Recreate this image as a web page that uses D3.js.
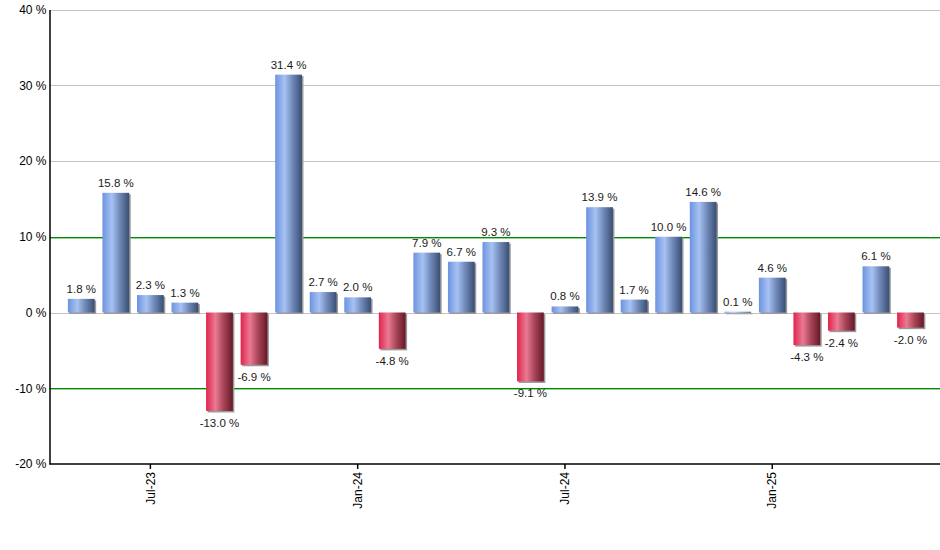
<!DOCTYPE html>
<html>
<head>
<meta charset="utf-8">
<script src="https://cdn.jsdelivr.net/npm/d3@7"></script>
<style>
  body { margin: 0; background: #fff; }
  text { font-family: "Liberation Sans", Arial, sans-serif; }
</style>
</head>
<body>
<div class="viz"></div>
<script>
const w = 940;
const h = 550;

const months = ["May-23", "Jun-23", "Jul-23", "Aug-23", "Sep-23", "Oct-23", "Nov-23", "Dec-23",
    "Jan-24", "Feb-24", "Mar-24", "Apr-24", "May-24", "Jun-24", "Jul-24", "Aug-24", "Sep-24",
    "Oct-24", "Nov-24", "Dec-24", "Jan-25", "Feb-25", "Mar-25", "Apr-25", "May-25"];
const returns = [1.8, 15.8, 2.3, 1.3, -13.0, -6.9, 31.4, 2.7, 2.0, -4.8, 7.9, 6.7, 9.3, -9.1,
    0.8, 13.9, 1.7, 10.0, 14.6, 0.1, 4.6, -4.3, -2.4, 6.1, -2.0];
const tickMonths = ["Jul-23", "Jan-24", "Jul-24", "Jan-25"];
const yTicks = [-20, -10, 0, 10, 20, 30, 40];
const greenLines = [-10, 10];

const data = months.map((m, i) => ({ month: m, value: returns[i] }));

const plotLeft = 49.5, plotRight = 940, plotTop = 9.5, plotBottom = 464;

const svg = d3.select(".viz")
    .append("svg")
    .attr("width", w)
    .attr("height", h);

const y = d3.scaleLinear().domain([-20, 40]).range([plotBottom, plotTop]);
const x = d3.scaleBand()
    .domain(months)
    .range([64, 64 + 25 * 34.55])
    .paddingInner(0.225)
    .paddingOuter(0.1125);

const defs = svg.append("defs");
function grad(id, stops) {
    const g = defs.append("linearGradient").attr("id", id)
        .attr("x1", "0%").attr("x2", "100%").attr("y1", "0%").attr("y2", "0%");
    stops.forEach(s => g.append("stop").attr("offset", s[0]).attr("stop-color", s[1]));
}
grad("blue", [["0%", "#6d93df"], ["35%", "#a7c2f3"], ["65%", "#6f88b8"], ["100%", "#394e72"]]);
grad("red", [["0%", "#e0244c"], ["35%", "#ea7a92"], ["65%", "#a84559"], ["100%", "#661827"]]);

// gridlines
svg.selectAll("line.grid")
    .data(yTicks.filter(t => t > -20 && !greenLines.includes(t)))
    .enter()
    .append("line")
    .attr("class", "grid")
    .attr("x1", plotLeft).attr("x2", plotRight)
    .attr("y1", d => Math.round(y(d)) + 0.5).attr("y2", d => Math.round(y(d)) + 0.5)
    .attr("stroke", "#c4c4c4");

// green reference lines as thin rects
svg.selectAll("rect.green")
    .data(greenLines)
    .enter()
    .append("rect")
    .attr("class", "green")
    .attr("x", plotLeft)
    .attr("width", plotRight - plotLeft)
    .attr("y", d => Math.round(y(d)))
    .attr("height", 1.4)
    .attr("fill", "#008a00");

// bar shadows
svg.selectAll("rect.shadow")
    .data(data)
    .enter()
    .append("rect")
    .attr("class", "shadow")
    .attr("x", d => x(d.month) + 1.5)
    .attr("y", d => Math.min(y(d.value), y(0)) + 1.5)
    .attr("width", x.bandwidth())
    .attr("height", d => Math.max(1, Math.abs(y(d.value) - y(0))))
    .style("fill", "#9a9a9a");

svg.selectAll("rect.bar")
    .data(data)
    .enter()
    .append("rect")
    .attr("class", "bar")
    .attr("x", d => x(d.month))
    .attr("y", d => Math.min(y(d.value), y(0)))
    .attr("width", x.bandwidth())
    .attr("height", d => Math.max(1, Math.abs(y(d.value) - y(0))))
    .style("fill", d => d.value >= 0 ? "url(#blue)" : "url(#red)");

// value labels
svg.selectAll("text.val")
    .data(data)
    .enter()
    .append("text")
    .attr("class", "val")
    .attr("x", d => x(d.month) + x.bandwidth() / 2)
    .attr("y", d => d.value >= 0 ? y(d.value) - 6 : y(d.value) + 16)
    .attr("text-anchor", "middle")
    .style("font-size", "11.5px")
    .style("fill", "#1a1a1a")
    .text(d => d.value.toFixed(1) + " %");

// y axis
const yAxis = svg.append("g")
    .attr("transform", `translate(${plotLeft},0)`)
    .call(d3.axisLeft(y).tickValues(yTicks).tickSize(0).tickPadding(3).tickFormat(d => d + " %"));
yAxis.select(".domain").style("stroke", "#000").style("stroke-width", 1.5);
yAxis.selectAll(".tick line").remove();
yAxis.selectAll("text").style("font-size", "12px").style("fill", "#000").attr("font-family", null);

// x axis
const xAxis = svg.append("g")
    .attr("transform", `translate(0,${plotBottom})`)
    .call(d3.axisBottom(x).tickValues(tickMonths).tickSize(5).tickSizeOuter(0));
xAxis.select(".domain").attr("d", `M${plotLeft},0H${plotRight}`).style("stroke", "#000").style("stroke-width", 1.5);
xAxis.selectAll(".tick line").style("stroke", "#000").style("stroke-width", 1.5);
xAxis.selectAll("text")
    .attr("font-family", null)
    .style("font-size", "12px")
    .style("fill", "#000")
    .attr("transform", "rotate(-90)")
    .attr("text-anchor", "end")
    .attr("x", -8)
    .attr("y", 0)
    .attr("dy", "0.35em");
</script>
</body>
</html>
